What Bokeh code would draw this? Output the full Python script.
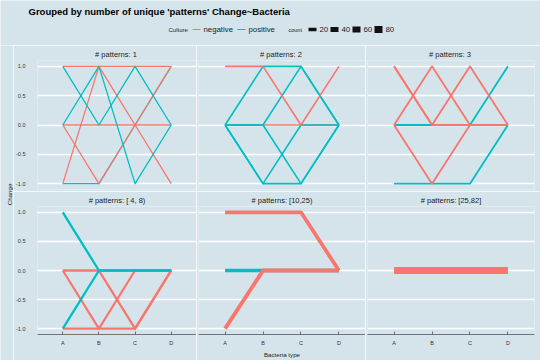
import numpy as np
from bokeh.plotting import figure
from bokeh.layouts import row, column
from bokeh.models import (ColumnDataSource, FactorRange, Range1d, FixedTicker,
                          PrintfTickFormatter, Grid)
from bokeh.embed import file_html
from bokeh.resources import INLINE
from bokeh.core.properties import value

# ---------------- data ----------------
bacteria = ["A", "B", "C", "D"]
y_ticks = [-1.0, -0.5, 0.0, 0.5, 1.0]
cultures = ["negative", "positive"]
count_breaks = [20, 40, 60, 80]
chart_title = "Grouped by number of unique 'patterns' Change~Bacteria"
panel_titles = ["# patterns:  1", "# patterns:  2", "# patterns:  3",
                "# patterns: [ 4, 8)", "# patterns: [10,25)", "# patterns: [25,82]"]

p1_culture = ["positive", "negative", "negative", "negative", "negative", "positive", "positive"]
p1_change = [[-1, -1, 0, 1], [-1, 1, 1, 1], [1, 1, 0, -1], [0, -1, 0, 1],
             [0, 0, 0, 0], [1, 0, 1, 0], [0, 1, -1, 0]]
p1_count = [1, 1, 1, 1, 1, 1, 1]

p2_culture = ["negative", "positive", "positive", "positive", "positive", "positive", "negative"]
p2_change = [[0, 0, 0, 0], [0, 1, 1, 0], [0, 0, 1, 0], [0, -1, -1, 0],
             [0, 0, -1, 0], [0, -1, 0, 0], [1, 1, 0, 1]]
p2_count = [2, 2, 2, 2, 2, 2, 2]

p3_culture = ["positive", "positive", "negative", "negative", "negative", "negative"]
p3_change = [[0, 0, 0, 1], [-1, -1, -1, 0], [1, 0, 1, 0], [0, 1, 0, 0],
             [0, -1, 0, 0], [1, 0, 0, 0]]
p3_count = [3, 3, 3, 3, 3, 3]

p4_culture = ["negative", "negative", "negative", "positive", "positive"]
p4_change = [[0, -1, 0, 0], [0, 0, -1, 0], [-1, -1, -1, 0], [1, 0, 0, 0], [-1, 0, 0, 0]]
p4_count = [5, 6, 6, 6, 6]

p5_culture = ["positive", "negative", "negative"]
p5_change = [[0, 0, 0, 0], [1, 1, 1, 0], [-1, 0, 0, 0]]
p5_count = [15, 20, 22]

p6_culture = ["negative"]
p6_change = [[0, 0, 0, 0]]
p6_count = [82]

panels = [(p1_culture, p1_change, p1_count), (p2_culture, p2_change, p2_count),
          (p3_culture, p3_change, p3_count), (p4_culture, p4_change, p4_count),
          (p5_culture, p5_change, p5_count), (p6_culture, p6_change, p6_count)]

# ---------------- style ----------------
BG = "#d5e4eb"
FONT = "Liberation Sans"
COLORS = {"negative": "#F8766D", "positive": "#00BFC4"}
TXT = "#222222"
FW = 167          # frame width of each panel
FH = 132          # frame height of each panel
CHW = 13          # width of the y-title strip
RIGHT = 6         # right padding after last column
BOTTOM = 25       # bottom border of bottom row


def width_for(c):
    return 0.6 + 0.7 * np.sqrt(c)


def make_panel(idx):
    rowi, col = divmod(idx, 3)
    left_axis = col == 0
    bottom = rowi == 1
    mleft = 16 if left_axis else 2
    mright = RIGHT if col == 2 else 0
    mtop = 12
    mbottom = BOTTOM if bottom else 2
    p = figure(width=mleft + FW + mright, height=mtop + FH + mbottom,
               x_range=FactorRange(factors=bacteria, range_padding=0.2,
                                   range_padding_units="absolute"),
               y_range=Range1d(-1.1, 1.1),
               x_axis_location="below" if bottom else None,
               y_axis_location="left" if left_axis else None,
               output_backend="svg", toolbar_location=None,
               min_border_left=mleft, min_border_right=mright,
               min_border_top=mtop, min_border_bottom=mbottom,
               background_fill_color=BG, border_fill_color=BG,
               outline_line_color=None, title=panel_titles[idx])
    p.title.text_font_size = "7.5px"
    p.title.text_font = FONT
    p.title.text_font_style = "normal"
    p.title.text_color = TXT
    p.title.align = "center"
    p.title.standoff = 4

    if len(p.ygrid) == 0:
        p.add_layout(Grid(dimension=1, ticker=FixedTicker(ticks=y_ticks)), "center")
    p.ygrid.ticker = FixedTicker(ticks=y_ticks)
    p.ygrid.grid_line_color = "white"
    p.ygrid.grid_line_width = 1.4
    p.xgrid.visible = False

    if left_axis:
        ax = p.yaxis[0]
        ax.ticker = FixedTicker(ticks=y_ticks)
        ax.formatter = PrintfTickFormatter(format="%.1f")
        ax.major_label_text_font_size = "5.5px"
        ax.major_label_text_font = FONT
        ax.major_label_text_color = "#333333"
        ax.major_tick_line_color = None
        ax.minor_tick_line_color = None
        ax.axis_line_color = None
        ax.major_label_standoff = 6
    if bottom:
        xa = p.xaxis[0]
        xa.axis_line_color = "#555555"
        xa.axis_line_width = 0.8
        xa.major_tick_in = 3
        xa.major_tick_out = 0
        xa.major_tick_line_color = "#555555"
        xa.major_tick_line_width = 0.8
        xa.major_label_text_font_size = "5.5px"
        xa.major_label_text_font = FONT
        xa.major_label_text_color = "#333333"
        xa.major_label_standoff = 5
        if col == 1:
            xa.axis_label = "Bacteria type"
            xa.axis_label_text_font_size = "6.2px"
            xa.axis_label_text_font = FONT
            xa.axis_label_text_font_style = "normal"
            xa.axis_label_text_color = TXT
            xa.axis_label_standoff = 2

    cul, chg, cnt = panels[idx]
    src = ColumnDataSource(dict(xs=[bacteria] * len(chg), ys=chg,
                                color=[COLORS[c] for c in cul],
                                lw=[width_for(c) for c in cnt]))
    p.multi_line("xs", "ys", source=src, line_color="color", line_width="lw",
                 line_join="round", line_cap="butt")
    return p


figs = [make_panel(i) for i in range(6)]

# ---------------- header (title + legends) ----------------
HW, HH = CHW + 16 + FW + 2 * (2 + FW) + RIGHT, 45
hdr = figure(width=HW, height=HH, x_range=Range1d(0, HW), y_range=Range1d(0, HH),
             x_axis_location=None, y_axis_location=None, output_backend="svg",
             toolbar_location=None, min_border=0, background_fill_color=BG,
             border_fill_color=BG, outline_line_color=None)
hdr.xgrid.visible = False
hdr.ygrid.visible = False

hdr.text(x=[28], y=[HH - 11], text=[chart_title], text_font=value(FONT),
         text_font_size="9.5px", text_font_style="bold", text_color="black",
         text_align="left", text_baseline="middle")

ly = HH - 29
hdr.text(x=[168], y=[ly], text=["Culture"], text_font=value(FONT), text_font_size="6px",
         text_color=TXT, text_align="left", text_baseline="middle")
for cul, x0 in zip(cultures, [192, 237]):
    hdr.segment(x0=[x0], y0=[ly], x1=[x0 + 8], y1=[ly], line_color=COLORS[cul], line_width=1)
    hdr.text(x=[x0 + 11], y=[ly], text=[cul], text_font=value(FONT), text_font_size="7.8px",
             text_color=TXT, text_align="left", text_baseline="middle")
hdr.text(x=[288], y=[ly], text=["count"], text_font=value(FONT), text_font_size="5.5px",
         text_color=TXT, text_align="left", text_baseline="middle")
for b, x0 in zip(count_breaks, [308, 330, 352, 374]):
    hdr.segment(x0=[x0], y0=[ly], x1=[x0 + 8], y1=[ly], line_color="#111111",
                line_width=width_for(b), line_cap="butt")
    hdr.text(x=[x0 + 11], y=[ly], text=[str(b)], text_font=value(FONT), text_font_size="7.8px",
             text_color=TXT, text_align="left", text_baseline="middle")

# ---------------- y axis title ----------------
CH = (12 + FH + 2) + (12 + FH + BOTTOM)
chf = figure(width=CHW, height=CH, x_range=Range1d(0, CHW), y_range=Range1d(0, CH),
             x_axis_location=None, y_axis_location=None, output_backend="svg",
             toolbar_location=None, min_border=0, background_fill_color=BG,
             border_fill_color=BG, outline_line_color=None)
chf.xgrid.visible = False
chf.ygrid.visible = False
chf.text(x=[9], y=[CH - 149], text=["Change"], angle=np.pi / 2, text_font=value(FONT),
         text_font_size="6.2px", text_color=TXT, text_align="center", text_baseline="middle")

layout = column(hdr, row(chf, column(row(*figs[:3]), row(*figs[3:]))))

open("out.html", "w").write(file_html(layout, INLINE))
